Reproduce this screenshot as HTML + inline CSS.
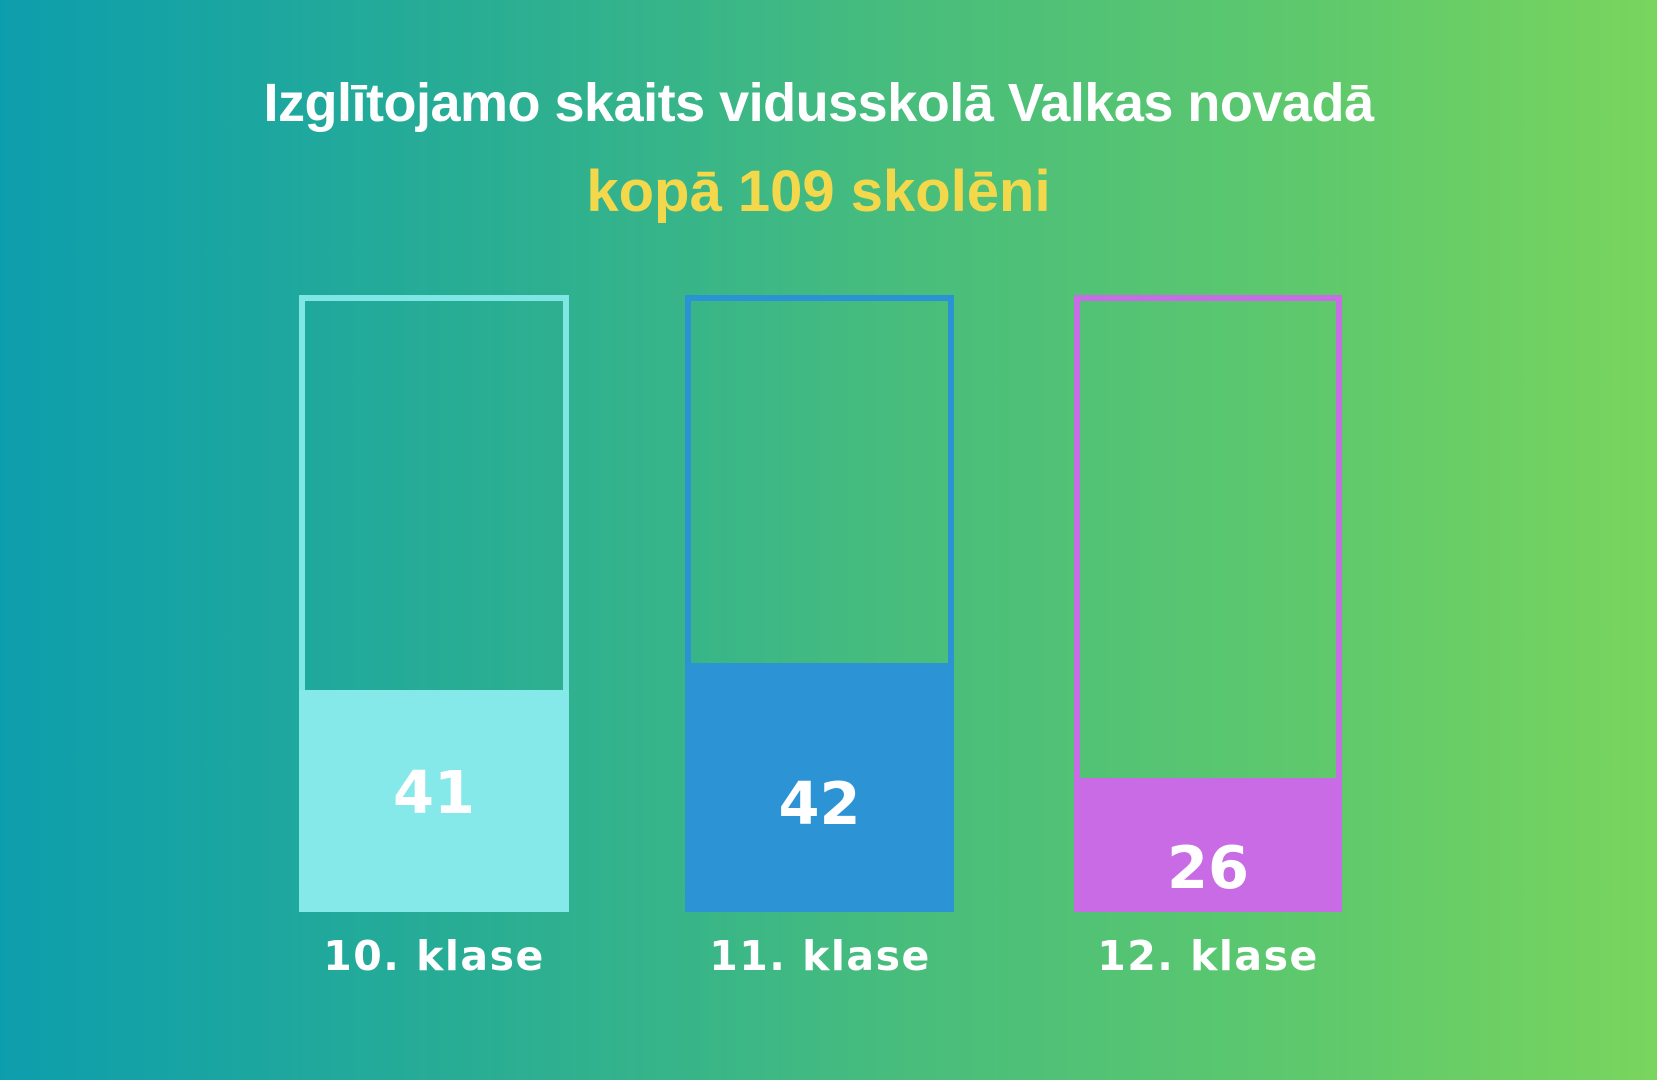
<!DOCTYPE html>
<html><head><meta charset="utf-8"><style>
html,body{margin:0;padding:0}
body{width:1657px;height:1080px;position:relative;overflow:hidden;background:linear-gradient(90deg,#0d9ead 0%,#2aae93 30%,#48bd7c 55%,#5fc96c 80%,#79d55d 100%);font-family:"Liberation Sans",sans-serif}
.t{position:absolute;left:-10px;width:1657px;text-align:center;font-weight:bold}
.bar{position:absolute;top:295px;height:617px;box-sizing:border-box;border:6px solid}
.fill{position:absolute;left:-6px;right:-6px;bottom:-6px}
.n{position:absolute;width:100%;text-align:center;color:#fff;font-weight:bold;font-size:59px;font-family:"DejaVu Sans",sans-serif}
.l{position:absolute;top:932px;width:300px;text-align:center;color:#fff;font-size:41px;font-weight:bold;letter-spacing:1.5px;font-family:"DejaVu Sans",sans-serif}
</style></head><body>
<div class="t" style="top:72px;font-size:54px;color:#fff;letter-spacing:-0.5px">Izglītojamo skaits vidusskolā Valkas novadā</div>
<div class="t" style="top:158px;font-size:58px;color:#f3d84c">kopā 109 skolēni</div>

<div class="bar" style="left:299px;width:270px;border-color:#80e6e5">
 <div class="fill" style="height:222px;background:#86e9e9"></div>
 <div class="n" style="top:457px">41</div>
</div>
<div class="bar" style="left:685px;width:269px;border-color:#2b92d4">
 <div class="fill" style="height:249px;background:#2c93d4"></div>
 <div class="n" style="top:468px">42</div>
</div>
<div class="bar" style="left:1074px;width:268px;border-color:#c86ce5">
 <div class="fill" style="height:134px;background:#c86be5"></div>
 <div class="n" style="top:532px">26</div>
</div>

<div class="l" style="left:284px">10. klase</div>
<div class="l" style="left:670px">11. klase</div>
<div class="l" style="left:1058px">12. klase</div>
</body></html>
